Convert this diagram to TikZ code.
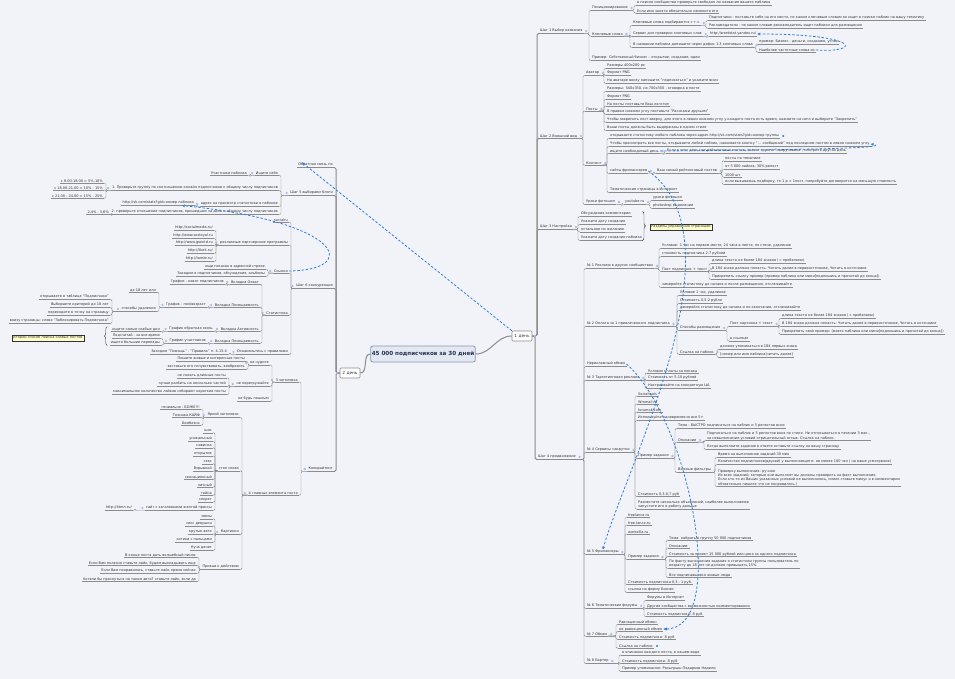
\documentclass[tikz,border=0pt]{standalone}
\usepackage{fontspec}
\setmainfont{DejaVu Sans}
\usetikzlibrary{arrows.meta,decorations.pathreplacing}

\definecolor{bgc}{HTML}{F2F3F8}
\definecolor{linec}{HTML}{8C8C8C}
\definecolor{textc}{HTML}{333333}
\definecolor{mkc}{HTML}{A9C0E4}
\definecolor{dashc}{HTML}{2F7DDB}
\definecolor{notec}{HTML}{FFFFCC}
\definecolor{rootf}{HTML}{E3E8F2}
\definecolor{rootb}{HTML}{8795B5}
\definecolor{roott}{HTML}{24324F}

\newcommand{\tfont}{\fontsize{3.5}{4.1}\selectfont}
% children to the right / to the left of a parent
\newcommand{\kidsR}[3][ln]{\foreach \kid in {#3}{\draw[#1] (#2) -| ([xshift=-2pt]\kid.south west) -- (\kid.south west);}}
\newcommand{\kidsL}[3][ln]{\foreach \kid in {#3}{\draw[#1] (#2) -| ([xshift=2pt]\kid.south east) -- (\kid.south east);}}

\begin{document}
\begin{tikzpicture}[
    x=1pt, y=-1pt,
    txt/.style={
        font=\tfont,
        text=textc,
        inner xsep=1pt,
        inner ysep=0.6pt,
        align=left,
        append after command={(\tikzlastnode.south west) edge[uline] (\tikzlastnode.south east)}
    },
    rt/.style={txt, anchor=west},
    lt/.style={txt, anchor=east},
    uline/.style={draw=linec, line width=0.45pt},
    root/.style={
        draw=rootb,
        fill=rootf,
        line width=0.8pt,
        rounded corners=2pt,
        font=\fontsize{5.6}{6}\selectfont\bfseries,
        text=roott,
        minimum width=103pt,
        minimum height=16pt,
        inner sep=1pt
    },
    day/.style={
        draw=linec,
        fill=white,
        line width=0.6pt,
        rounded corners=1pt,
        font=\fontsize{4.3}{5}\selectfont,
        text=textc,
        minimum width=20pt,
        minimum height=10pt,
        inner sep=1pt
    },
    note/.style={draw=textc, fill=notec, line width=0.4pt, font=\tfont, text=textc, inner sep=1.3pt},
    ln/.style={draw=linec, line width=0.45pt, rounded corners=1.2pt},
    ln1/.style={draw=linec, line width=1pt, rounded corners=1.5pt},
    dl/.style={draw=dashc, line width=0.8pt, dash pattern=on 2.4pt off 1.8pt, -{Stealth[length=3pt, width=3pt]}},
    br/.style={draw=textc, line width=0.4pt, decorate, decoration={brace, amplitude=3pt}}
]
\fill[bgc] (0,0) rectangle (955,679);
\useasboundingbox (0,0) rectangle (955,679);

\node[root] (root) at (423,354) {45 000 подписчиков за 30 дней};
\node[day] (d1) at (522,336) {1 день};
\node[day] (d2) at (350,373) {2 день};

% ---- 1 день
\node[rt] (s1) at (539,31) {Шаг 1 Выбор названия};
\node[rt] (pos) at (591,8) {Позиционирование};
\node[rt] (pos1) at (636,3) {в поиске сообщества проверьте свободно ли название вашего паблика};
\node[rt] (pos2) at (636,11) {Если имя занято обязательно измените его};
\node[rt] (kw) at (591,34) {Ключевые слова};
\node[rt] (kwsel) at (632,23) {Ключевые слова подбираются с т.ч.};
\node[rt] (kwsel1) at (708,18) {Подписчики - поставьте себя на его место, по каким ключевым словам он ищет в поиске паблик на вашу тематику};
\node[rt] (kwsel2) at (708,26) {Рекламодатели - по каким словам рекламодатель ищет паблики для размещения};
\node[rt] (kwsvc) at (632,34) {Сервис для проверки ключевых слов};
\node[rt] (kwurl) at (709,34) {http://wordstat.yandex.ru/};
\node[rt] (kwname) at (632,45) {В названии паблика допишите через дефис 1-3 ключевых слова};
\node[rt] (kwname1) at (758,42) {пример: Бизнес - деньги, созданию, успех};
\node[rt] (kwname2) at (758,50) {Наиболее частотные слова из};
\node[rt] (ex1) at (591,58) {Пример: Собственный бизнес – открытие, создание, идеи};

\node[rt] (s2) at (539,136) {Шаг 2 Внешний вид};
\node[rt] (ava) at (585,73) {Аватар};
\node[rt] (ava1) at (606,66) {Размеры 400х200 px};
\node[rt] (ava2) at (606,73) {Формат PNG};
\node[rt] (ava3) at (606,81) {На аватаре внизу напишите "подписаться" и укажите вниз};
\node[rt] (posts) at (585,109) {Посты};
\node[rt] (p1) at (606,89) {Размеры: 540х350, но 700х350 - оговорка в посте};
\node[rt] (p2) at (606,97) {Формат PNG};
\node[rt] (p3) at (606,104) {На посты поставьте Ваш логотип};
\node[rt] (p4) at (606,112) {В правом нижнем углу поставьте "Расскажи друзьям"};
\node[rt] (p5) at (606,120) {Чтобы закрепить пост вверху, для этого в левом нижнем углу у каждого поста есть время, нажмите на него и выберите "Закрепить"};
\node[rt] (p6) at (606,128) {Ваши посты должны быть выдержаны в одном стиле};
\node[rt] (cont) at (585,163) {Контент};
\node[rt] (c1) at (609,136) {открываете статистику любого паблика через адрес http://vk.com/stats?gid=номер группы};
\node[rt] (c2) at (609,144) {Чтобы просмотреть все посты, открываете любой паблик, нажимаете кнопку "... сообщений" под последним постом в левом нижнем углу};
\node[rt] (need) at (609,151) {ищите необходимый день};
\node[rt] (need1) at (666,151) {Если в этот день нет рейтинговых постов, значит группа "накручивала", смотрите другой день};
\node[rt] (freel) at (609,171) {сайты фрилансеров};
\node[rt] (best) at (656,171) {Ваш самый рейтинговый постов};
\node[rt] (b1) at (724,159) {посты по тематике};
\node[rt] (b2) at (724,167) {от 5 000 лайков, 30\% репост};
\node[rt] (b3) at (724,175) {1000 шт};
\node[rt] (b4) at (724,182) {если вызываешь подборку, то 1 р = 1пост, попробуйте договорится на меньшую стоимость};
\node[rt] (c5) at (609,190) {Тематические страницы в Интернет};
\node[rt] (photo) at (585,202) {Уроки фотошоп};
\node[rt] (ytb) at (624,202) {youtube.ru};
\node[rt] (y1) at (652,198) {уроки фотошоп};
\node[rt] (y2) at (652,206) {photoshop выделение};

\node[rt] (s3) at (539,227) {Шаг 3 Настройка};
\node[rt] (n1) at (580,214) {Обсуждения комментарии};
\node[rt] (n2) at (580,222) {Укажите дату создания};
\node[rt] (n3) at (580,230) {остальное по желанию};
\node[rt] (n4) at (580,238) {Укажите дату создания паблика};
\node[note] (nt1) at (681,227) {Разделы управления страницей};

\node[rt] (s4) at (537,457) {Шаг 4 продвижение};
\node[rt] (r1) at (586,266) {№ 1 Реклама в других сообществах};
\node[rt] (r1a) at (661,246) {Условие: 1 час на первом месте, 24 часа в ленте, по стене, удаление};
\node[rt] (r1b) at (661,254) {стоимость подписчика 2-7 рублей};
\node[rt] (r1post) at (661,269) {Пост подписчик + текст};
\node[rt] (r1p1) at (711,261) {длина текста не более 184 знаков ( с пробелами)};
\node[rt] (r1p2) at (711,269) {В 184 знака должно попасть: Читать далее в первоисточнике, Читать в источнике};
\node[rt] (r1p3) at (711,277) {Прикрепить ссылку пример (пример паблика или мини[подпишись и прочитай до конца])};
\node[rt] (r1c) at (661,285) {замеряйте статистику до начала и после размещения, отслеживайте};
\node[rt] (r2) at (586,324) {№ 2 Оплата за 1 привлеченного подписчика};
\node[rt] (r2a) at (679,293) {Условие 1 час, удаление};
\node[rt] (r2b) at (679,301) {Стоимость 0,5-2 рубля};
\node[rt] (r2c) at (679,308) {замеряйте статистику до начала и по окончании, отслеживайте};
\node[rt] (r2way) at (679,328) {Способы размещения};
\node[rt] (r2pic) at (729,324) {Пост картинка + текст};
\node[rt] (r2p1) at (781,316) {длина текста не более 184 знаков ( с пробелами)};
\node[rt] (r2p2) at (781,324) {В 184 знака должно попасть: Читать далее в первоисточнике, Читать в источнике};
\node[rt] (r2p3) at (781,332) {Прикрепить свой пример: (моего паблика или мини[подпишись и прочитай до конца])};
\node[rt] (r2inl) at (729,339) {в ссылках};
\node[rt] (r2link) at (679,352) {Ссылка на паблик};
\node[rt] (r2l1) at (719,347) {должно упоминаться в 184 первых знака};
\node[rt] (r2l2) at (719,355) {[номер или имя паблика|читать далее]};
\node[rt] (swap) at (586,364) {Нерекламный обмен};
\node[rt] (r3) at (586,378) {№ 3 Таргетинговая реклама};
\node[rt] (r3a) at (647,371) {Условия оплаты за показы};
\node[rt] (r3b) at (647,378) {Стоимость от 5-10 рублей};
\node[rt] (r3c) at (647,386) {Настраивайте на конкретную ЦА};
\node[rt] (r4) at (586,450) {№ 4 Сервисы накрутки};
\node[rt] (r4a) at (637,394) {Socialtools};
\node[rt] (r4b) at (637,402) {Wmmail.ru};
\node[rt] (r4c) at (637,410) {forumok.com};
\node[rt] (r4d) at (637,418) {Используйте одновременно все 5+};
\node[rt] (r4ex) at (637,456) {Пример задания};
\node[rt] (r4t) at (677,426) {Тема - БЫСТРО подписаться на паблик и 5 репостов вниз};
\node[rt] (r4desc) at (677,440) {Описание};
\node[rt] (r4d1) at (706,436) {Подписаться на паблик и 5 репостов вниз по стене. Не отписываться в течении 3 мес.,\\за невыполнение условий отрицательный отзыв. Ссылка на паблик.};
\node[rt] (r4d2) at (706,447) {Когда выполните задание в ответе оставьте ссылку на вашу страницу};
\node[rt] (r4filt) at (677,470) {Важные фильтры};
\node[rt] (r4f1) at (717,455) {Время на выполнение заданий 30 мин};
\node[rt] (r4f2) at (717,462) {Количество подписчиков(друзей) у выполняющего: не менее 100 чел ( на ваше усмотрение)};
\node[rt] (r4f3) at (717,478) {Проверку выполнения: ручное\\Из всех заданий, которые они выполнят вы должны проверить на факт выполнения.\\Если кто-то из Ваших указанных условий не выполнилось, смело ставьте минус и в комментарии\\обязательно пишите что не понравилось.)};
\node[rt] (r4e) at (637,494) {Стоимость 0,3-0,7 руб};
\node[rt] (r4g) at (637,504.5) {Разместите несколько объявлений, наиболее выполняемое\\запустите его в работу дальше};
\node[rt] (r5) at (586,552) {№ 5 Фрилансеры};
\node[rt] (r5a) at (627,515) {freelance.ru};
\node[rt] (r5b) at (627,523) {free-lance.ru};
\node[rt] (r5c) at (627,532) {workzilla.ru};
\node[rt] (r5ex) at (627,557) {Пример задания};
\node[rt] (r5t) at (668,538) {Тема: набрать в группу 50 000 подписчиков};
\node[rt] (r5d) at (668,546) {Описание:};
\node[rt] (r5p) at (668,554) {Стоимость за проект 15 000 рублей или цена за одного подписчика};
\node[rt] (r5f) at (668,564) {По факту выполнения задания я статистики группы пользователь по\\возрасту до 18 лет не должен превышать 15\%.};
\node[rt] (r5l) at (668,575) {Все подписавшиеся живые люди};
\node[rt] (r5e) at (627,582) {Стоимость подписчика 0,3 - 1 руб.};
\node[rt] (r5g) at (627,590) {ссылка на форму Бизнес};
\node[rt] (r6) at (586,606) {№ 6 Тематические форумы};
\node[rt] (r6a) at (646,598) {Форумы в Интернет};
\node[rt] (r6b) at (646,606) {Другие сообщества с возможностью комментирования};
\node[rt] (r6c) at (646,614) {Стоимость подписчика: 8 руб};
\node[rt] (r7) at (586,634) {№ 7 Обмен};
\node[rt] (r7a) at (618,622) {Равноценный обмен};
\node[rt] (r7b) at (618,629) {не равноценный обмен};
\node[rt] (r7c) at (618,637) {Стоимость подписчика: 8 руб};
\node[rt] (r7d) at (618,646) {Ссылка на паблик};
\node[rt] (r8) at (586,661) {№ 8 Бартер};
\node[rt] (r8a) at (621,653) {в описании каждого поста, в нашем виде};
\node[rt] (r8b) at (621,661) {Стоимость подписчика: 8 руб};
\node[rt] (r8c) at (621,669) {Пример упоминания: Розыгрыш Подарков Недели};

% ---- 2 день
\node[lt] (fb) at (334,165) {Обратная связь по};
\node[lt] (s5) at (334,193) {Шаг 5 выбираем блоги};
\node[lt] (seek) at (279,173) {Ищите себя};
\node[lt] (seek1) at (248,173) {Участники паблика};
\node[lt] (chk1) at (279,188) {1. Проверьте группу по соотношению онлайн подписчиков к общему числу подписчиков};
\node[lt] (t1) at (104,181) {с 9.00-18.00 = 5\%-10\%};
\node[lt] (t2) at (104,188) {с 18.00-21.00 = 10\% - 15\%};
\node[lt] (t3) at (104,196) {с 21.00 - 24.00 = 15\% - 25\%};
\node[lt] (addr) at (279,204) {адрес на просмотр статистики в паблике};
\node[lt] (vk) at (195,203) {http://vk.com/stats?gid=номер паблика};
\node[lt] (chk2) at (279,212) {2. проверьте отношение подписчиков, пришедших за день к общему числу подписчиков};
\node[lt] (pct) at (110,212) {2,4\% - 3,6\%};

\node[lt] (s6) at (334,286) {Шаг 6 конкуренция};
\node[lt] (soc) at (289,220) {socialru};
\node[lt] (aff) at (289,243) {рекламные партнерские программы};
\node[lt] (a1) at (214,228) {http://socialmedia.ru/};
\node[lt] (a2) at (214,236) {http://www.sostoyal.ru};
\node[lt] (a3) at (214,243) {http://www.jpointd.ru};
\node[lt] (a4) at (214,251) {http://likeit.ru/};
\node[lt] (a5) at (214,259) {http://tambr.ru/};
\node[lt] (links) at (289,271) {Ссылки};
\node[lt] (l1) at (266,267) {ищи показан в адресной строке};
\node[lt] (l2) at (266,274) {Заходим в подписчиков, обсуждения, альбомы};
\node[lt] (rel) at (289,313) {Статистика};
\node[lt] (tabans) at (260,282) {Вкладка Охват};
\node[lt] (tabans1) at (225,282) {График - охват подписчиков};
\node[lt] (tabvis1) at (260,305) {Вкладка Посещаемость};
\node[lt] (grpol) at (207,305) {График - пол/возраст};
\node[lt] (g1) at (157,290) {до 18 лет или};
\node[lt] (methods) at (157,309) {способы удаления};
\node[lt] (m1) at (110,297) {открываете в таблице "Подписчики"};
\node[lt] (m2) at (110,305) {Выбираете критерий до 18 лет};
\node[lt] (m3) at (110,313) {переходите в точку на страницу};
\node[lt] (m4) at (110,321) {внизу страницы: слово "Заблокировать Подписчика"};
\node[lt] (tabact) at (260,329) {Вкладка Активность};
\node[lt] (grfb) at (214,329) {График обратная связь};
\node[lt] (weak) at (161,329) {ищите самые слабые дни};
\node[lt] (tabvis2) at (260,341) {Вкладка Посещаемость};
\node[lt] (grpart) at (207,341) {График участников};
\node[lt] (gp1) at (161,336) {Подсчитай - за все время};
\node[lt] (gp2) at (161,343) {ищите большие перепады};
\node[note] (nt2) at (48,338) {Второй способ поиска слабых постов};
\node[lt] (rules) at (289,352) {Ознакомьтесь с правилами};
\node[lt] (rules1) at (228,352) {Заходим "Помощь" - "Правила" п. 4.13.4};

\node[lt] (copy) at (334,469) {Копирайтинг};
\node[lt] (h3) at (299,380) {3 заголовка};
\node[lt] (h3a) at (270,363) {не нудите};
\node[lt] (h3a1) at (246,359) {Пишите живые и интересные посты};
\node[lt] (h3a2) at (246,367) {заставьте его почувствовать, вообразить};
\node[lt] (h3b) at (270,384) {не перегружайте};
\node[lt] (h3b1) at (227,376) {не писать длинные посты};
\node[lt] (h3b2) at (227,384) {лучше разбить на несколько частей};
\node[lt] (h3b3) at (227,392) {максимальное количество лайков собирают короткие посты};
\node[lt] (h3c) at (270,399) {не будь пошлым};
\node[lt] (h4) at (299,493) {4 главных элемента поста};
\node[lt] (bright) at (240,415) {Яркий заголовок};
\node[lt] (br1) at (201,407) {гениально - БОЖЕ!!!};
\node[lt] (br2) at (201,415) {Техника КАЙФ};
\node[lt] (br3) at (201,423) {Бомбезно};
\node[lt] (stop) at (240,469) {стоп слова};
\node[lt] (w1) at (213,431) {шок};
\node[lt] (w2) at (213,439) {уникальный};
\node[lt] (w3) at (213,446) {новинка};
\node[lt] (w4) at (213,454) {открытие};
\node[lt] (w5) at (213,462) {секс};
\node[lt] (w6) at (213,469) {Взрывной};
\node[lt] (w7) at (213,477) {сенсационный};
\node[lt] (w8) at (213,485) {личный};
\node[lt] (w9) at (213,493) {тайна};
\node[lt] (w10) at (213,500) {секрет};
\node[lt] (site) at (213,508) {сайт с заголовками желтой прессы};
\node[lt] (site1) at (133,508) {http://4tmn.ru/};
\node[lt] (pics) at (240,532) {Картинки};
\node[lt] (pc1) at (213,517) {мемы};
\node[lt] (pc2) at (213,524) {секс девушки};
\node[lt] (pc3) at (213,532) {крутые авто};
\node[lt] (pc4) at (213,540) {котики с пальцами};
\node[lt] (pc5) at (213,548) {Куча денег};
\node[lt] (call) at (240,567) {Призыв к действию};
\node[lt] (cl1) at (197,555) {В конце поста дать волшебный пинок};
\node[lt] (cl2) at (197,563) {Если Вам полезно ставьте лайк, будем выкладывать еще};
\node[lt] (cl3) at (197,571) {Если Вам понравилось, ставьте лайк прямо сейчас};
\node[lt] (cl4) at (197,579) {Хотели бы проснуться на таком авто? ставьте лайк, если да};

% connectors
\draw[ln1] (root.east) to[out=0, in=180] (d1.west);
\draw[ln1] (root.west) to[out=180, in=0] (d2.east);
\kidsR[ln1]{d1.east}{s1,s2,s3,s4}
\kidsR{s1.south east}{pos,kw,ex1}
\kidsR{pos.south east}{pos1,pos2}
\kidsR{kw.south east}{kwsel,kwsvc,kwname}
\kidsR{kwsel.south east}{kwsel1,kwsel2}
\kidsR{kwsvc.south east}{kwurl}
\kidsR{kwname.south east}{kwname1,kwname2}
\kidsR{s2.south east}{ava,posts,cont,photo}
\kidsR{ava.south east}{ava1,ava2,ava3}
\kidsR{posts.south east}{p1,p2,p3,p4,p5,p6}
\kidsR{cont.south east}{c1,c2,need,freel,c5}
\kidsR{need.south east}{need1}
\kidsR{freel.south east}{best}
\kidsR{best.south east}{b1,b2,b3,b4}
\kidsR{photo.south east}{ytb}
\kidsR{ytb.south east}{y1,y2}
\kidsR{s3.south east}{n1,n2,n3,n4}
\kidsR{s4.south east}{r1,r2,swap,r3,r4,r5,r6,r7,r8}
\kidsR{r1.south east}{r1a,r1b,r1post,r1c}
\kidsR{r1post.south east}{r1p1,r1p2,r1p3}
\kidsR{r2.south east}{r2a,r2b,r2c,r2way,r2link}
\kidsR{r2way.south east}{r2pic,r2inl}
\kidsR{r2pic.south east}{r2p1,r2p2,r2p3}
\kidsR{r2link.south east}{r2l1,r2l2}
\kidsR{r3.south east}{r3a,r3b,r3c}
\kidsR{r4.south east}{r4a,r4b,r4c,r4d,r4ex,r4e,r4g}
\kidsR{r4ex.south east}{r4t,r4desc,r4filt}
\kidsR{r4desc.south east}{r4d1,r4d2}
\kidsR{r4filt.south east}{r4f1,r4f2,r4f3}
\kidsR{r5.south east}{r5a,r5b,r5c,r5ex,r5e,r5g}
\kidsR{r5ex.south east}{r5t,r5d,r5p,r5f,r5l}
\kidsR{r6.south east}{r6a,r6b,r6c}
\kidsR{r7.south east}{r7a,r7b,r7c,r7d}
\kidsR{r8.south east}{r8a,r8b,r8c}

\kidsL[ln1]{d2.west}{fb,s5,s6,copy}
\kidsL{s5.south west}{seek,chk1,addr,chk2}
\kidsL{seek.south west}{seek1}
\kidsL{chk1.south west}{t1,t2,t3}
\kidsL{addr.south west}{vk}
\kidsL{chk2.south west}{pct}
\kidsL{s6.south west}{soc,aff,links,rel,rules}
\kidsL{aff.south west}{a1,a2,a3,a4,a5}
\kidsL{links.south west}{l1,l2}
\kidsL{rel.south west}{tabans,tabvis1,tabact,tabvis2}
\kidsL{tabans.south west}{tabans1}
\kidsL{tabvis1.south west}{grpol}
\kidsL{grpol.south west}{g1,methods}
\kidsL{methods.south west}{m1,m2,m3,m4}
\kidsL{tabact.south west}{grfb}
\kidsL{grfb.south west}{weak}
\kidsL{tabvis2.south west}{grpart}
\kidsL{grpart.south west}{gp1,gp2}
\kidsL{rules.south west}{rules1}
\kidsL{copy.south west}{h3,h4}
\kidsL{h3.south west}{h3a,h3b,h3c}
\kidsL{h3a.south west}{h3a1,h3a2}
\kidsL{h3b.south west}{h3b1,h3b2,h3b3}
\kidsL{h4.south west}{bright,stop,pics,call}
\kidsL{bright.south west}{br1,br2,br3}
\kidsL{stop.south west}{w1,w2,w3,w4,w5,w6,w7,w8,w9,w10,site}
\kidsL{site.south west}{site1}
\kidsL{pics.south west}{pc1,pc2,pc3,pc4,pc5}
\kidsL{call.south west}{cl1,cl2,cl3,cl4}

% braces
\draw[br] ([xshift=16pt]n1.north east -| n2.east) -- ([xshift=16pt]n4.south east -| n2.east);
\draw[br] ([xshift=-4pt]weak.west |- gp2.south) -- ([xshift=-4pt]weak.north west);

% markers
\foreach \n in {d1,s1,pos,kw,kwsel,kwsvc,kwname,s2,ava,posts,cont,need,freel,best,photo,ytb,s3,s4,r1,r1post,r2,r2way,r2pic,r2link,r3,r4,r4ex,r4desc,r4filt,r5,r5ex,r6,r7,r8}
    \fill[mkc] ([xshift=2.6pt]\n.east) circle (1.3pt);
\foreach \n in {d2,s5,seek,chk1,addr,chk2,s6,aff,links,rel,tabans,tabvis1,grpol,methods,tabact,grfb,tabvis2,grpart,rules,copy,h3,h3a,h3b,h4,bright,stop,site,pics,call}
    \fill[mkc] ([xshift=-2.6pt]\n.west) circle (1.3pt);
\foreach \n in {c1,r7b,r7d}
    \fill[dashc] ([xshift=3pt]\n.east) circle (1.1pt);

% dashed links
\draw[dl] (kwname2.east) .. controls (862,53) and (862,34) .. (kwurl.east);
\draw[dl] (need.east) .. controls (800,150) and (895,148) .. (c2.east);
\draw[dl] (freel.east) .. controls (745,240) and (625,470) .. (r5.north);
\draw[dl] (swap.east) .. controls (690,420) and (730,630) .. (r7b.east);
\draw[dl] (d1.north west) -- ([xshift=5pt]fb.north west);
\draw[dl] (links.east) .. controls (360,270) and (345,222) .. ([xshift=-13pt]vk.south east);
\end{tikzpicture}
\end{document}
